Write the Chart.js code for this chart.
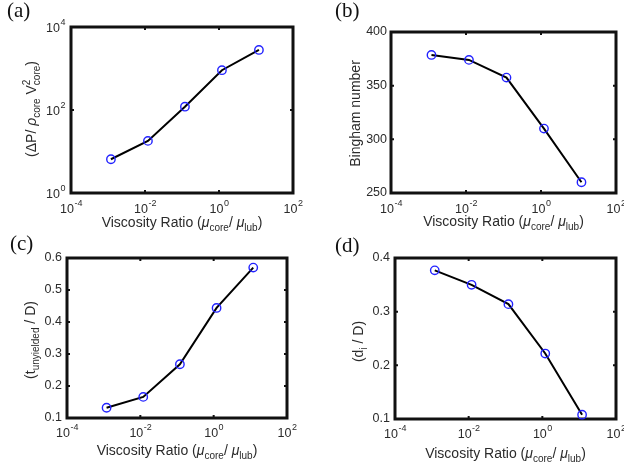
<!DOCTYPE html>
<html><head><meta charset="utf-8">
<script src="https://cdn.jsdelivr.net/npm/chart.js@4.4.1/dist/chart.umd.min.js"></script>
<style>
html,body{margin:0;padding:0;background:#fff;}
#wrap{position:relative;width:624px;height:471px;overflow:hidden;background:#fff;}
canvas{position:absolute;}
</style></head><body>
<div id="wrap">
<canvas id="pa" width="312" height="235" style="left:0;top:0"></canvas>
<canvas id="pb" width="312" height="235" style="left:312px;top:0"></canvas>
<canvas id="pc" width="312" height="236" style="left:0;top:235px"></canvas>
<canvas id="pd" width="312" height="236" style="left:312px;top:235px"></canvas>
</div>
<script>
// ---- data ----
const viscosityRatio = [0.0012, 0.012, 0.12, 1.2, 12];
const pressureDrop = [6.5, 18, 120, 910, 2800];
const binghamNumber = [378.6, 374, 357.5, 310, 260];
const unyieldedThickness = [0.132, 0.166, 0.268, 0.444, 0.57];
const interfaceDiameter = [0.377, 0.35, 0.314, 0.222, 0.108];

// tick values and labels (powers of ten written as base "10" + exponent)
const xTickValues = [1e-4, 1e-2, 1e0, 1e2];
const xTickExponents = ['-4', '-2', '0', '2'];
const yTickValuesA = [1, 1e2, 1e4];
const yTickExponentsA = ['0', '2', '4'];
const yTickValuesB = [250, 300, 350, 400];
const yTickLabelsB = ['250', '300', '350', '400'];
const yTickValuesC = [0.1, 0.2, 0.3, 0.4, 0.5, 0.6];
const yTickLabelsC = ['0.1', '0.2', '0.3', '0.4', '0.5', '0.6'];
const yTickValuesD = [0.1, 0.2, 0.3, 0.4];
const yTickLabelsD = ['0.1', '0.2', '0.3', '0.4'];

const SANS = "'Liberation Sans', Arial, Helvetica, sans-serif";
const SERIF = "'Liberation Serif', 'Times New Roman', serif";
const TXT = '#2b2b2b';

// rich text: parts = [{t, sub, sup, it}] or {stack:[sup, sub]}
function drawRich(ctx, parts, x, y, rot, size) {
  const subSize = Math.round(size * 0.72);
  const font = (s, it) => (it ? 'italic ' : '') + s + 'px ' + SANS;
  const items = parts.map(p => {
    if (p.stack) {
      ctx.font = font(subSize, false);
      const w = Math.max(ctx.measureText(p.stack[0]).width, ctx.measureText(p.stack[1]).width);
      return {p, w};
    }
    const s = (p.sub || p.sup) ? subSize : size;
    ctx.font = font(s, p.it);
    return {p, w: ctx.measureText(p.t).width};
  });
  const total = items.reduce((a, b) => a + b.w, 0);
  ctx.save();
  ctx.translate(x, y);
  if (rot) ctx.rotate(rot);
  ctx.fillStyle = TXT;
  ctx.textBaseline = 'alphabetic';
  ctx.textAlign = 'left';
  let cx = -total / 2;
  items.forEach(({p, w}) => {
    if (p.stack) {
      ctx.font = font(subSize, false);
      ctx.fillText(p.stack[0], cx, -size * 0.42);
      ctx.fillText(p.stack[1], cx, size * 0.3);
    } else {
      const s = (p.sub || p.sup) ? subSize : size;
      ctx.font = font(s, p.it);
      const dy = p.sub ? size * 0.3 : (p.sup ? -size * 0.42 : 0);
      ctx.fillText(p.t, cx, dy);
    }
    cx += w;
  });
  ctx.restore();
}

// power-of-ten label "10" with raised exponent
function drawPow(ctx, exp, x, y, align) {
  ctx.save();
  ctx.fillStyle = TXT;
  ctx.textBaseline = 'alphabetic';
  ctx.textAlign = 'left';
  ctx.font = '12.5px ' + SANS;
  const wb = ctx.measureText('10').width;
  ctx.font = '9px ' + SANS;
  const we = ctx.measureText(exp).width;
  const x0 = align === 'center' ? x - (wb + we) / 2 : x - (wb + we);
  ctx.font = '12.5px ' + SANS;
  ctx.fillText('10', x0, y);
  ctx.font = '9px ' + SANS;
  ctx.fillText(exp, x0 + wb + 0.5, y - 7);
  ctx.restore();
}

const xTitleParts = [
  {t: 'Viscosity Ratio ('}, {t: '\u03BC', it: true}, {t: 'core', sub: true},
  {t: '/ '}, {t: '\u03BC', it: true}, {t: 'lub', sub: true}, {t: ')'}
];

const framePlugin = {
  id: 'frame',
  beforeDatasetsDraw(chart, args, opts) {
    const {ctx, chartArea: a} = chart;
    const xs = chart.scales.x, ys = chart.scales.y;
    ctx.save();
    ctx.strokeStyle = '#111';
    ctx.lineWidth = 2;
    const tl = 3;
    xs.ticks.forEach(t => {
      const px = xs.getPixelForValue(t.value);
      if (px < a.left + 2 || px > a.right - 2) return;
      ctx.beginPath();
      ctx.moveTo(px, a.bottom); ctx.lineTo(px, a.bottom - tl);
      ctx.moveTo(px, a.top); ctx.lineTo(px, a.top + tl);
      ctx.stroke();
    });
    ys.ticks.forEach(t => {
      const py = ys.getPixelForValue(t.value);
      if (py < a.top + 2 || py > a.bottom - 2) return;
      ctx.beginPath();
      ctx.moveTo(a.left, py); ctx.lineTo(a.left + tl, py);
      ctx.moveTo(a.right, py); ctx.lineTo(a.right - tl, py);
      ctx.stroke();
    });
    ctx.lineWidth = 3;
    ctx.strokeRect(a.left, a.top, a.right - a.left, a.bottom - a.top);
    ctx.restore();
  },
  afterDraw(chart, args, opts) {
    const {ctx, chartArea: a} = chart;
    const xs = chart.scales.x, ys = chart.scales.y;
    // power-of-ten tick labels placed from the library's scales
    xs.ticks.forEach((t, i) => {
      drawPow(ctx, xTickExponents[i], xs.getPixelForValue(t.value), a.bottom + opts.xLabelDy, 'center');
    });
    if (opts.yExponents) {
      ys.ticks.forEach((t, i) => {
        drawPow(ctx, opts.yExponents[i], a.left - 6, ys.getPixelForValue(t.value) + 4.5, 'right');
      });
    }
    ctx.save();
    ctx.font = '21px ' + SERIF;
    ctx.fillStyle = '#111';
    ctx.textBaseline = 'alphabetic';
    ctx.fillText(opts.panel, opts.panelX, opts.panelY);
    ctx.restore();
    drawRich(ctx, xTitleParts, (a.left + a.right) / 2, opts.xTitleY, 0, 14);
    drawRich(ctx, opts.yTitle, opts.yTitleX, (a.top + a.bottom) / 2 + opts.yTitleDy, -Math.PI / 2, 14);
  }
};

function makePanel(cfg) {
  const cv = document.getElementById(cfg.id);
  const W = cv.width, H = cv.height, A = cfg.area;
  return new Chart(cv, {
    type: 'line',
    data: {
      datasets: [{
        data: viscosityRatio.map((x, i) => ({x: x, y: cfg.values[i]})),
        borderColor: '#000', borderWidth: 2, tension: 0, fill: false, clip: false,
        pointRadius: 4.2, pointHoverRadius: 4.2, pointBorderWidth: 1.4,
        pointBorderColor: '#2222ff', pointBackgroundColor: 'rgba(0,0,0,0)'
      }]
    },
    options: {
      responsive: false, animation: false, devicePixelRatio: 1,
      events: [],
      layout: {padding: {left: 0, top: A.top, right: W - A.right, bottom: 0}},
      plugins: {
        legend: {display: false}, tooltip: {enabled: false},
        frame: {panel: cfg.panel, panelX: cfg.panelX, panelY: cfg.panelY,
                xTitleY: cfg.xTitleY, xLabelDy: cfg.xLabelDy, yTitle: cfg.yTitle,
                yTitleX: cfg.yTitleX, yTitleDy: cfg.yTitleDy, yExponents: cfg.yExponents}
      },
      scales: {
        x: {
          type: 'logarithmic', position: 'bottom', min: 1e-4, max: 1e2,
          grid: {display: false, drawTicks: false}, border: {display: false},
          afterBuildTicks: s => { s.ticks = xTickValues.map(v => ({value: v})); },
          afterFit: s => { s.height = H - A.bottom; s.paddingLeft = 0; s.paddingRight = 0; },
          ticks: {display: false, autoSkip: false, maxRotation: 0}
        },
        y: {
          type: cfg.yType, position: 'left', min: cfg.yMin, max: cfg.yMax,
          grid: {display: false, drawTicks: false}, border: {display: false},
          afterBuildTicks: s => { s.ticks = cfg.yTicks.map(v => ({value: v})); },
          afterFit: s => { s.width = A.left; s.paddingTop = 0; s.paddingBottom = 0; },
          ticks: {
            display: !cfg.yExponents,
            autoSkip: false, padding: cfg.yPad, color: TXT,
            font: {family: SANS, size: 12.5},
            callback: (v, i) => cfg.yLabels ? cfg.yLabels[i] : ''
          }
        }
      }
    },
    plugins: [framePlugin]
  });
}

makePanel({
  id: 'pa', area: {left: 71, top: 27, right: 293, bottom: 193},
  values: pressureDrop, yType: 'logarithmic', yMin: 1, yMax: 1e4,
  yTicks: yTickValuesA, yExponents: yTickExponentsA, yPad: 5,
  panel: '(a)', panelX: 7, panelY: 17, xTitleY: 227, xLabelDy: 19.5,
  yTitle: [{t: '(\u0394P/ '}, {t: '\u03C1', it: true}, {t: 'core', sub: true}, {t: ' V'}, {stack: ['2', 'core']}, {t: ')'}],
  yTitleX: 36, yTitleDy: -1
});
makePanel({
  id: 'pb', area: {left: 79, top: 32, right: 304, bottom: 193},
  values: binghamNumber, yType: 'linear', yMin: 250, yMax: 400,
  yTicks: yTickValuesB, yLabels: yTickLabelsB, yPad: 4,
  panel: '(b)', panelX: 23, panelY: 17, xTitleY: 226, xLabelDy: 19.5,
  yTitle: [{t: 'Bingham number'}],
  yTitleX: 48, yTitleDy: 1
});
makePanel({
  id: 'pc', area: {left: 67, top: 23, right: 287, bottom: 183},
  values: unyieldedThickness, yType: 'linear', yMin: 0.1, yMax: 0.6,
  yTicks: yTickValuesC, yLabels: yTickLabelsC, yPad: 5,
  panel: '(c)', panelX: 10, panelY: 15, xTitleY: 220, xLabelDy: 18.5,
  yTitle: [{t: '(t'}, {t: 'unyielded', sub: true}, {t: ' / D)'}],
  yTitleX: 35, yTitleDy: 2
});
makePanel({
  id: 'pd', area: {left: 83, top: 23, right: 304, bottom: 184},
  values: interfaceDiameter, yType: 'linear', yMin: 0.1, yMax: 0.4,
  yTicks: yTickValuesD, yLabels: yTickLabelsD, yPad: 5,
  panel: '(d)', panelX: 23, panelY: 17, xTitleY: 223, xLabelDy: 18.5,
  yTitle: [{t: '(d'}, {t: 'i', sub: true}, {t: ' / D)'}],
  yTitleX: 51, yTitleDy: 3
});
</script>
</body></html>
